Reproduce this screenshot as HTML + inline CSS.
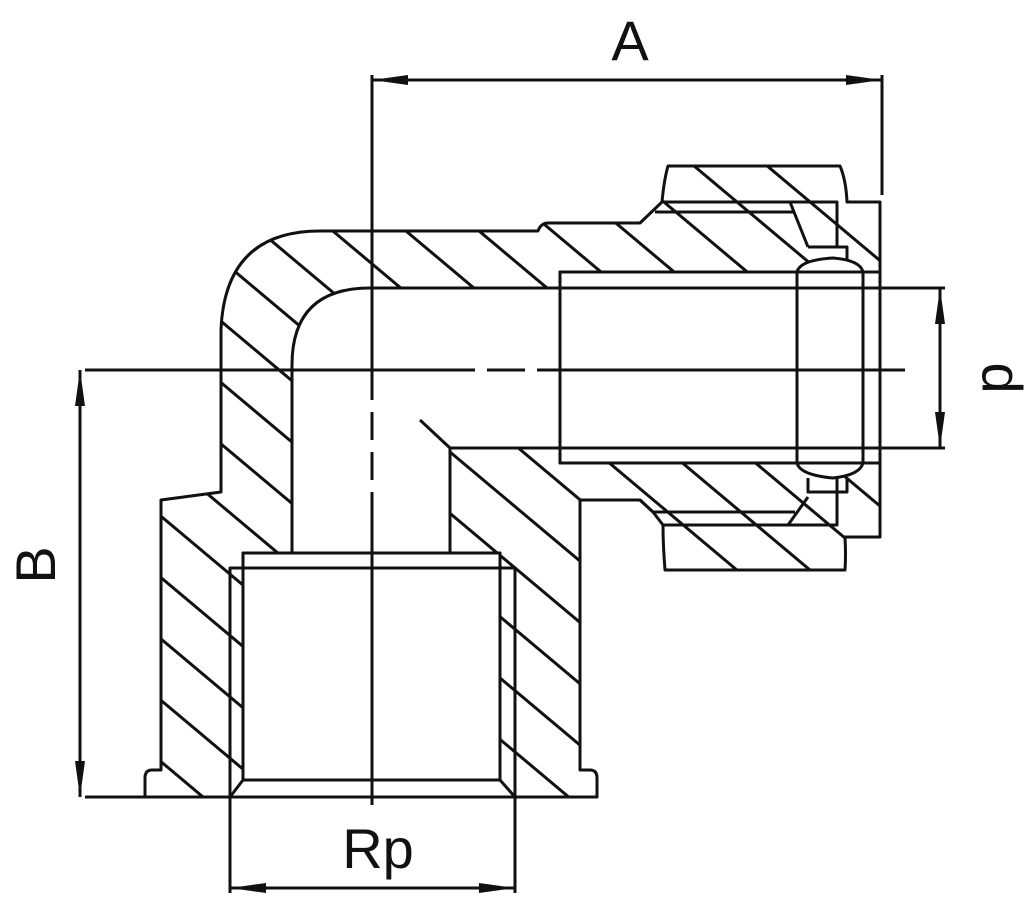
<!DOCTYPE html>
<html><head><meta charset="utf-8"><style>html,body{margin:0;padding:0;background:#fff}svg{display:block}</style></head>
<body>
<svg width="1024" height="901" viewBox="0 0 1024 901" xmlns="http://www.w3.org/2000/svg">
<defs>
<pattern id="h" patternUnits="userSpaceOnUse" width="400" height="47" patternTransform="rotate(40)">
<line x1="0" y1="10" x2="400" y2="10" stroke="#111" stroke-width="3"/>
</pattern>
<marker id="ar" viewBox="0 0 36 10" refX="36" refY="5" markerWidth="36" markerHeight="10" markerUnits="userSpaceOnUse" orient="auto-start-reverse">
<path d="M0,0 L36,5 L0,10 Z" fill="#111"/>
</marker>
</defs>
<g stroke="#111" stroke-width="3" fill="none" stroke-linejoin="round">
<path fill="url(#h)" d="M320,231 L538,231 Q541,223 548,223 L640,223 L662,202 Q664,180 668,166 L840,166 Q846,180 847,202 L880,202 L880,537 L845,537 Q846,555 845,570 L665,570 Q663,545 663,525 L653,512 L640,500 L580,500 L580,770 L590,770 Q597,770 597,778 L597,797 L145,797 L145,778 Q145,770 152,770 L161,770 L161,500 L221,492 L221,330 Q225,231 320,231 Z"/>
<path fill="#fff" stroke="none" d="M370,288 L560,288 L560,448 L450,448 L450,553 L292,553 L292,365 Q292,288 370,288 Z"/>
<rect x="560" y="272" width="320" height="191" fill="#fff"/>
<rect x="243" y="553" width="257" height="227" fill="#fff"/>
<rect x="243" y="568" width="257" height="229" fill="#fff" stroke="none"/>
<path d="M370,288 L560,288 M292,553 L292,365 Q292,288 370,288"/>
<path d="M450,553 L450,448 L560,448 M420,420 L450,448"/>
<path d="M580,500 L640,500 L653,512 L795,512 M655,212 L793,212"/>
<path d="M662,202 L837,202 L837,247 M790,202 L808,247 M808,247 L847,247 L847,262"/>
<path d="M663,525 L837,525 L837,478 M788,525 L808,497 M808,478 L808,492 L847,492 L847,478"/>
<path fill="#fff" d="M797,272 Q800,260 833,258 Q860,260 863,272 Z"/>
<path fill="#fff" d="M797,463 Q800,475 833,478 Q860,475 863,463 Z"/>
<line x1="797" y1="272" x2="797" y2="463"/>
<line x1="863" y1="272" x2="863" y2="463"/>
<rect x="560" y="272" width="320" height="191"/>
<line x1="560" y1="288" x2="945" y2="288"/>
<line x1="560" y1="448" x2="945" y2="448"/>
<path d="M243,780 L243,553 L500,553 L500,780"/>
<path d="M230,797 L230,568 L515,568 L515,797"/>
<path d="M230,797 L243,780 L500,780 L515,797"/>
<line x1="85" y1="797" x2="597" y2="797"/>
<path d="M372,75 L372,400 M372,412 L372,440 M372,452 L372,480 M372,492 L372,805"/>
<path d="M85,370 L475,370 M487,370 L525,370 M537,370 L905,370"/>
<line x1="882" y1="75" x2="882" y2="195"/>
<line x1="372" y1="80" x2="882" y2="80" marker-start="url(#ar)" marker-end="url(#ar)"/>
<line x1="80" y1="370" x2="80" y2="797" marker-start="url(#ar)" marker-end="url(#ar)"/>
<line x1="940" y1="288" x2="940" y2="448" marker-start="url(#ar)" marker-end="url(#ar)"/>
<line x1="230" y1="797" x2="230" y2="893"/>
<line x1="515" y1="797" x2="515" y2="893"/>
<line x1="230" y1="888" x2="515" y2="888" marker-start="url(#ar)" marker-end="url(#ar)"/>
</g>
<g font-family="Liberation Sans, sans-serif" fill="#111" font-size="56">
<text x="630" y="60" text-anchor="middle">A</text>
<text x="378" y="868" text-anchor="middle">Rp</text>
<text transform="translate(55,565) rotate(-90)" text-anchor="middle">B</text>
<text transform="translate(1012,378) rotate(-90)" text-anchor="middle">p</text>
</g>
</svg>
</body></html>
